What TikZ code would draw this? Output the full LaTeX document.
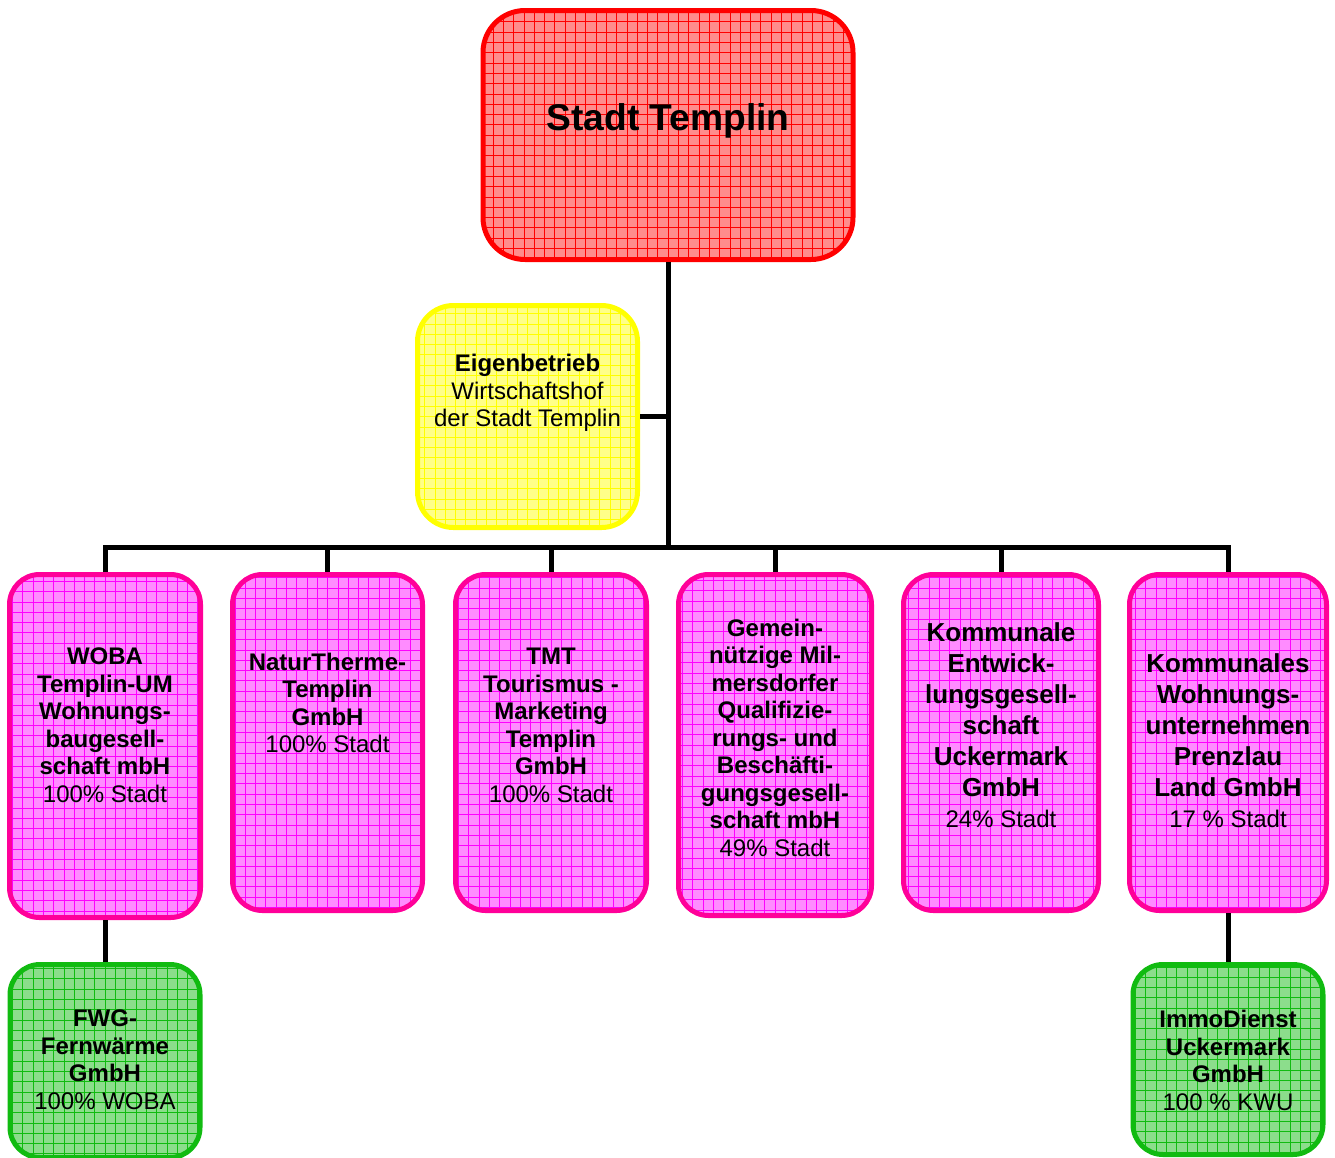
\documentclass[tikz,border=0pt]{standalone}
\usepackage{fontspec}
\setmainfont{Liberation Sans}
\usepackage{tikz}

\definecolor{stadtred}{HTML}{FF0000}
\definecolor{stadtfill}{HTML}{FF8C8C}
\definecolor{eigenyellow}{HTML}{FFFF00}
\definecolor{eigenfill}{HTML}{FFFF88}
\definecolor{gesrand}{HTML}{FF0099}
\definecolor{gesgrid}{HTML}{FF00FF}
\definecolor{gesfill}{HTML}{FF8CFF}
\definecolor{tochtergreen}{HTML}{11BB11}
\definecolor{tochterfill}{HTML}{8CDD8C}

\begin{document}
\begin{tikzpicture}[x=0.5pt, y=-0.5pt,
    box/.style={draw, line width=2.5pt, inner sep=0pt},
    gridfill/.style={path picture={\draw[#1, line width=0.3pt]
        (path picture bounding box.south west) grid[step=5.15pt]
        (path picture bounding box.north east);}},
    stadtbox/.style={box, rounded corners=21pt, draw=stadtred, fill=stadtfill, gridfill=stadtred},
    eigenbox/.style={box, rounded corners=18pt, draw=eigenyellow, fill=eigenfill, gridfill=eigenyellow},
    gesbox/.style={box, rounded corners=15pt, draw=gesrand, fill=gesfill, gridfill=gesgrid,
        minimum height=168pt},
    tochterbox/.style={box, rounded corners=15pt, draw=tochtergreen, fill=tochterfill,
        gridfill=tochtergreen, minimum width=95pt, minimum height=95pt},
    txt/.style={anchor=north, inner sep=0pt, align=center,
        font=\fontsize{12}{13.75}\selectfont\bfseries},
    bigtxt/.style={txt, font=\fontsize{13}{15.5}\selectfont\bfseries},
    link/.style={line width=2.5pt}
]
    \useasboundingbox (0,0) rectangle (1335,1158);

    % boxes
    \node[stadtbox, minimum width=185pt, minimum height=124.5pt] (stadt) at (668,135) {};
    \node[eigenbox, minimum width=110pt, minimum height=111pt] (eigen) at (527.5,416.5) {};
    \node[gesbox, minimum width=95.5pt, minimum height=171.5pt] (woba) at (105,746) {};
    \node[gesbox, minimum width=95pt] (therme) at (327.5,742.5) {};
    \node[gesbox, minimum width=95.5pt] (tmt) at (551,742.5) {};
    \node[gesbox, minimum width=96.5pt, minimum height=170.5pt] (gqb) at (775,745) {};
    \node[gesbox, minimum width=97.5pt] (keg) at (1001,742.5) {};
    \node[gesbox, minimum width=98.5pt] (kwu) at (1228,742.5) {};
    \node[tochterbox, minimum height=96.5pt] (fwg) at (105,1061) {};
    \node[tochterbox] (immo) at (1228,1059.5) {};

    % texts
    \node[anchor=base, inner sep=0pt, font=\fontsize{18.6}{22}\selectfont\bfseries]
        (stadttext) at (668,130) {Stadt Templin};
    \node[txt] (eigentext) at (527.5,354)
        {Eigenbetrieb\\ \mdseries Wirtschaftshof\\ \mdseries der Stadt Templin};
    \node[txt] (wobatext) at (105,647.5)
        {WOBA\\Templin-UM\\Wohnungs-\\baugesell-\\schaft mbH\\ \mdseries 100\% Stadt};
    \node[txt] (thermetext) at (327.5,652.5)
        {NaturTherme-\\Templin\\GmbH\\ \mdseries 100\% Stadt};
    \node[txt] (tmttext) at (551,648)
        {TMT\\Tourismus -\\Marketing\\Templin\\GmbH\\ \mdseries 100\% Stadt};
    \node[txt] (gqbtext) at (775,618.5)
        {Gemein-\\nützige Mil-\\mersdorfer\\Qualifizie-\\rungs- und\\Beschäfti-\\gungsgesell-\\schaft mbH\\ \mdseries 49\% Stadt};
    \node[bigtxt] (kegtext) at (1001,622)
        {Kommunale\\Entwick-\\lungsgesell-\\schaft\\Uckermark\\GmbH\\
         \mdseries\fontsize{12}{13.5}\selectfont 24\% Stadt};
    \node[bigtxt] (kwutext) at (1228,653.5)
        {Kommunales\\Wohnungs-\\unternehmen\\Prenzlau\\Land GmbH\\
         \mdseries\fontsize{12}{13.5}\selectfont 17 \% Stadt};
    \node[txt] (fwgtext) at (105,1009.5)
        {FWG-\\Fernwärme\\GmbH\\ \mdseries 100\% WOBA};
    \node[txt] (immotext) at (1228,1010)
        {ImmoDienst\\Uckermark\\GmbH\\ \mdseries 100 \% KWU};

    % connectors
    \coordinate (bus) at (668,547);
    \draw[link] (stadt) -- (bus);
    \draw[link] (eigen) -- (eigen -| bus);
    \draw[link] (woba) |- (bus) -| (kwu);
    \foreach \n in {therme, tmt, gqb, keg}
        \draw[link] (\n |- bus) -- (\n);
    \draw[link] (woba) -- (fwg);
    \draw[link] (kwu) -- (immo);
\end{tikzpicture}
\end{document}
